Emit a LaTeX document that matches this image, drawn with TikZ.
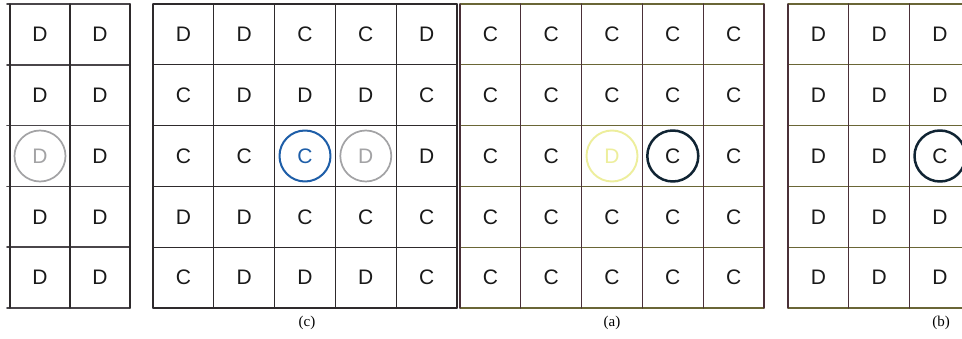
\documentclass[tikz,border=0pt]{standalone}
\usepackage{fontspec}
\setmainfont{Liberation Serif}
\setsansfont{Liberation Sans}
\usetikzlibrary{positioning}
\definecolor{gridcol}{HTML}{2E2A2C}
\definecolor{gridsoft}{HTML}{4A464A}
\definecolor{olivecol}{HTML}{6A6636}
\definecolor{browncol}{HTML}{4A3038}
\definecolor{ringgray}{HTML}{A3A3A5}
\definecolor{ringblue}{HTML}{1E5EA8}
\definecolor{ringyellow}{HTML}{EDEE9C}
\definecolor{ringdark}{HTML}{102433}
\tikzset{
  every picture/.style={line join=round, line cap=round},
  cell/.style={font=\sffamily\fontsize{21}{21}\selectfont, inner sep=0pt, text=black!90},
  ring/.style={circle, draw=#1, text=#1, minimum size=51pt},
  % letter styles: plain ones do nothing, the others put a ring round the cell
  cs D/.style={}, cs C/.style={},
  cs g/.style={ring=ringgray, line width=1.7pt},
  cs b/.style={ring=ringblue, line width=2pt},
  cs y/.style={ring=ringyellow, line width=1.9pt},
  cs k/.style={ring=ringdark, line width=2.5pt, text=black!90},
  hline/.style={draw=gridcol, line width=1.1pt},
  vline/.style={draw=gridcol, line width=1.1pt},
  panellabel/.style={font=\fontsize{15}{15}\selectfont},
}
\begin{document}
\begin{tikzpicture}[x=1pt,y=-1pt]
\clip (0,0) rectangle (962,339);
\fill[white] (0,0) rectangle (962,339);
% left panel, cut off at its left side
\foreach \i in {0,...,5}
  \draw[hline, draw=gridsoft, line width=1.7pt] (7,{4+\i*60.8}) -- (130,{4+\i*60.8});
\foreach \x in {10,70,130}
  \draw[vline] (\x,4) -- (\x,308);
\foreach \row [count=\r] in {{D,D},{D,D},{D/g,D},{D,D},{D,D}}
  \foreach \s/\k [count=\c] in \row
    \node[cell, cs \k] (l-\r-\c) at ({10+(\c-0.5)*60},{4+(\r-0.5)*60.8}) {\s};
% panel (c)
\foreach \i in {0,...,5}
  \draw[hline] (153,{4+\i*60.8}) -- (457,{4+\i*60.8});
\foreach \j in {0,...,5}
  \draw[vline] ({153+\j*60.8},4) -- ({153+\j*60.8},308);
\foreach \row [count=\r] in {{D,D,C,C,D},{C,D,D,D,C},{C,C,C/b,D/g,D},{D,D,C,C,C},{C,D,D,D,C}}
  \foreach \s/\k [count=\c] in \row
    \node[cell, cs \k] (c-\r-\c) at ({153+(\c-0.5)*60.8},{4+(\r-0.5)*60.8}) {\s};
\node[panellabel] (c-label) at (307,323) {(c)};
% panel (a)
\foreach \i in {0,...,5}
  \draw[hline, draw=olivecol] (460,{4+\i*60.8}) -- (764,{4+\i*60.8});
\foreach \j in {0,...,5}
  \draw[vline, draw=browncol] ({460+\j*60.8},4) -- ({460+\j*60.8},308);
\foreach \row [count=\r] in {{C,C,C,C,C},{C,C,C,C,C},{C,C,D/y,C/k,C},{C,C,C,C,C},{C,C,C,C,C}}
  \foreach \s/\k [count=\c] in \row
    \node[cell, cs \k] (a-\r-\c) at ({460+(\c-0.5)*60.8},{4+(\r-0.5)*60.8}) {\s};
\node[panellabel] (a-label) at (612,323) {(a)};
% panel (b), runs past the right edge
\foreach \i in {0,...,5}
  \draw[hline, draw=olivecol] (788,{4+\i*60.8}) -- (975,{4+\i*60.8});
\foreach \j in {0,...,3}
  \draw[vline, draw=browncol] ({788+\j*60.8},4) -- ({788+\j*60.8},308);
\foreach \row [count=\r] in {{D,D,D},{D,D,D},{D,D,C/k},{D,D,D},{D,D,D}}
  \foreach \s/\k [count=\c] in \row
    \node[cell, cs \k] (b-\r-\c) at ({788+(\c-0.5)*60.8},{4+(\r-0.5)*60.8}) {\s};
\node[panellabel] (b-label) at (941,323) {(b)};
\end{tikzpicture}
\end{document}
